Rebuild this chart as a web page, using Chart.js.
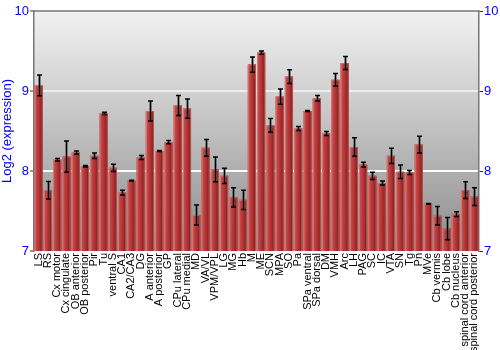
<!DOCTYPE html>
<html><head><meta charset="utf-8">
<script src="https://cdn.jsdelivr.net/npm/chart.js@4"></script>
<style>html,body{margin:0;padding:0;background:#fff}#wrap{width:500px;height:350px}</style>
</head><body><div id="wrap"><canvas id="c" width="500" height="350"></canvas></div>
<script>
const categories = ["LS","RS","Cx motor","Cx cingulate","OB anterior","OB posterior","Pir","Tu","ventral S","CA1","CA2/CA3","DG","A anterior","A posterior","GP","CPu lateral","CPu medial","MD","VA/VL","VPM/VPL","LG","MG","Hb","M","ME","SCN","MPA","SO","Pa","SPa ventral","SPa dorsal","DM","VMH","Arc","LH","PAG","SC","IC","VTA","SN","Tg","Pn","MVe","Cb vermis","Cb lobe","Cb nucleus","spinal cord anterior","spinal cord posterior"];
const expression = [9.07,7.76,8.14,8.18,8.23,8.06,8.19,8.72,8.04,7.73,7.88,8.17,8.75,8.25,8.36,8.82,8.78,7.45,8.29,8.02,7.94,7.67,7.64,9.33,9.48,8.57,8.93,9.18,8.53,8.75,8.91,8.47,9.14,9.35,8.30,8.08,7.94,7.85,8.19,7.99,7.98,8.33,7.59,7.44,7.28,7.46,7.76,7.68];
const errors = [0.13,0.11,0.015,0.195,0.02,0.01,0.035,0.015,0.045,0.03,0.005,0.025,0.125,0.005,0.02,0.125,0.12,0.125,0.105,0.155,0.095,0.12,0.12,0.095,0.02,0.085,0.095,0.085,0.025,0.005,0.035,0.025,0.08,0.08,0.115,0.03,0.045,0.025,0.095,0.085,0.025,0.105,0.005,0.115,0.14,0.03,0.105,0.11];
const yTicks = [7,8,9,10];

const bgPlugin = {
  id:'bg',
  beforeDraw(chart){
    const {ctx, chartArea:a} = chart;
    const g = ctx.createLinearGradient(0,a.top,0,a.bottom);
    g.addColorStop(0,'#f2f2f2');
    g.addColorStop(0.5,'#c0c0c0');
    g.addColorStop(1,'#8c8c8c');
    ctx.save(); ctx.fillStyle=g; ctx.fillRect(a.left,a.top,a.right-a.left,a.bottom-a.top); ctx.restore();
  },
  afterDraw(chart){
    const {ctx, chartArea:a} = chart;
    ctx.save(); ctx.strokeStyle='#777'; ctx.lineWidth=1.5;
    ctx.beginPath(); ctx.moveTo(a.left,a.top); ctx.lineTo(a.right,a.top); ctx.stroke(); ctx.restore();
  }
};

const barPlugin = {
  id:'barshade',
  afterDatasetsDraw(chart){
    const {ctx} = chart;
    const meta = chart.getDatasetMeta(0);
    const ys = chart.scales.y;
    ctx.save();
    ctx.beginPath(); ctx.rect(chart.chartArea.left,chart.chartArea.top,chart.chartArea.right-chart.chartArea.left,chart.chartArea.bottom-chart.chartArea.top); ctx.clip();
    meta.data.forEach((bar,i)=>{
      const w = bar.width, x0 = bar.x - w/2;
      const top = bar.y, bot = chart.chartArea.bottom;
      const g = ctx.createLinearGradient(x0,0,x0+w,0);
      g.addColorStop(0,'#d46a6a');
      g.addColorStop(0.2,'#c44646');
      g.addColorStop(0.6,'#ad3030');
      g.addColorStop(1,'#7c1a1a');
      ctx.fillStyle=g; ctx.fillRect(x0,top,w,bot-top);
      ctx.strokeStyle='rgba(230,140,140,0.5)'; ctx.lineWidth=1;
      ctx.strokeRect(x0+0.5,top+0.5,w-1,bot-top);
    });
    meta.data.forEach((bar,i)=>{
      const x = Math.round(bar.x)+0.5;
      const yHi = ys.getPixelForValue(expression[i]+errors[i]);
      const yLo = ys.getPixelForValue(expression[i]-errors[i]);
      ctx.strokeStyle='rgba(70,70,70,0.55)'; ctx.lineWidth=3;
      ctx.beginPath(); ctx.moveTo(x,yHi); ctx.lineTo(x,yLo); ctx.stroke();
      ctx.strokeStyle='#000'; ctx.lineWidth=1;
      ctx.beginPath(); ctx.moveTo(x,yHi); ctx.lineTo(x,yLo); ctx.stroke();
      ctx.lineWidth=1.5;
      ctx.beginPath(); ctx.moveTo(x-2.5,yHi); ctx.lineTo(x+2.5,yHi); ctx.moveTo(x-2.5,yLo); ctx.lineTo(x+2.5,yLo); ctx.stroke();
    });
    ctx.restore();
  }
};

new Chart(document.getElementById('c'), {
  type:'bar',
  data:{labels:categories, datasets:[{data:expression, backgroundColor:'#b33', borderWidth:0, barPercentage:0.88, categoryPercentage:1.0}]},
  options:{
    responsive:false, animation:false,
    layout:{padding:{top:11,left:0,right:0,bottom:0}},
    plugins:{legend:{display:false}, tooltip:{enabled:false}},
    scales:{
      x:{
        grid:{display:false, drawTicks:false},
        border:{display:false},
        ticks:{autoSkip:false, maxRotation:90, minRotation:90, color:'#000', padding:2, font:{family:'Liberation Sans, Arial', size:11}},
        afterFit(s){ s.height = 99; }
      },
      y:{
        min:7, max:10, position:'left',
        afterBuildTicks(s){ s.ticks = yTicks.map(v=>({value:v})); },
        ticks:{color:'#0000ff', padding:1, font:{family:'Liberation Sans, Arial', size:13}},
        grid:{color:(c)=> (c.tick && (c.tick.value===8)) ? '#ffffff' : (c.tick && c.tick.value===9 ? '#eeeeee' : 'rgba(0,0,0,0)'), lineWidth:2, drawTicks:true, tickLength:4, tickColor:'#333', tickWidth:1},
        border:{display:true, color:'#777', width:1.5},
        title:{display:true, text:'Log2 (expression)', color:'#0000ff', padding:0, font:{family:'Liberation Sans, Arial', size:13}},
        afterFit(s){ s.width = 34; }
      },
      y2:{
        min:7, max:10, position:'right',
        afterBuildTicks(s){ s.ticks = yTicks.map(v=>({value:v})); },
        ticks:{color:'#0000ff', padding:1, font:{family:'Liberation Sans, Arial', size:13}},
        grid:{display:true, drawOnChartArea:false, color:'#333', tickLength:4},
        border:{display:true, color:'#777', width:1.5},
        afterFit(s){ s.width = 21; }
      }
    }
  },
  plugins:[bgPlugin, barPlugin]
});
</script></body></html>
